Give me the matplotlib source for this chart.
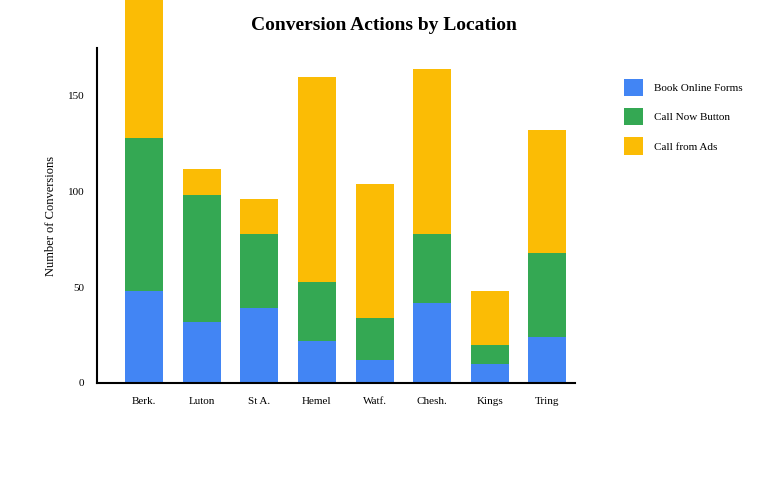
import numpy as np
import matplotlib; matplotlib.use("Agg")
import matplotlib.pyplot as plt

plt.rcParams["font.family"] = ["Liberation Serif", "DejaVu Serif"]

locations = ["Berk.", "Luton", "St A.", "Hemel", "Watf.", "Chesh.", "Kings", "Tring"]
book_online = [48, 32, 39, 22, 12, 42, 10, 24]
call_now = [80, 66, 39, 31, 22, 36, 10, 44]
call_ads = [78, 14, 18, 107, 70, 86, 28, 64]

colors = {"Book Online Forms": "#4285F4", "Call Now Button": "#34A853",
          "Call from Ads": "#FBBC05"}

fig = plt.figure(figsize=(7.68, 4.8), dpi=100)
ax = fig.add_axes([0.1263, 0.2021, 0.6224, 0.6979])

x = np.arange(len(locations))
w = 0.66
b1 = np.array(book_online); b2 = np.array(call_now); b3 = np.array(call_ads)
ax.bar(x, b1, w, color=colors["Book Online Forms"], label="Book Online Forms", clip_on=False)
ax.bar(x, b2, w, bottom=b1, color=colors["Call Now Button"], label="Call Now Button", clip_on=False)
ax.bar(x, b3, w, bottom=b1 + b2, color=colors["Call from Ads"], label="Call from Ads", clip_on=False)

ax.set_ylim(0, 175)
ax.set_xlim(-0.82, 7.48)
ax.set_yticks([0, 50, 100, 150])
ax.set_xticks(x)
ax.set_xticklabels(locations)
ax.tick_params(length=0, labelsize=8, pad=10)
ax.tick_params(axis="y", pad=9)
for s in ("top", "right"):
    ax.spines[s].set_visible(False)
for s in ("left", "bottom"):
    ax.spines[s].set_linewidth(1.5)
ax.set_ylabel("Number of Conversions", fontsize=9, labelpad=8)

fig.suptitle("Conversion Actions by Location", fontsize=14, fontweight="bold", y=0.965)
fig.legend(loc="upper left", bbox_to_anchor=(0.8, 0.856), frameon=False, fontsize=8,
           handlelength=1.65, handleheight=2.0, labelspacing=1.08, handletextpad=1.0)

fig.savefig("out.png", dpi=100)
